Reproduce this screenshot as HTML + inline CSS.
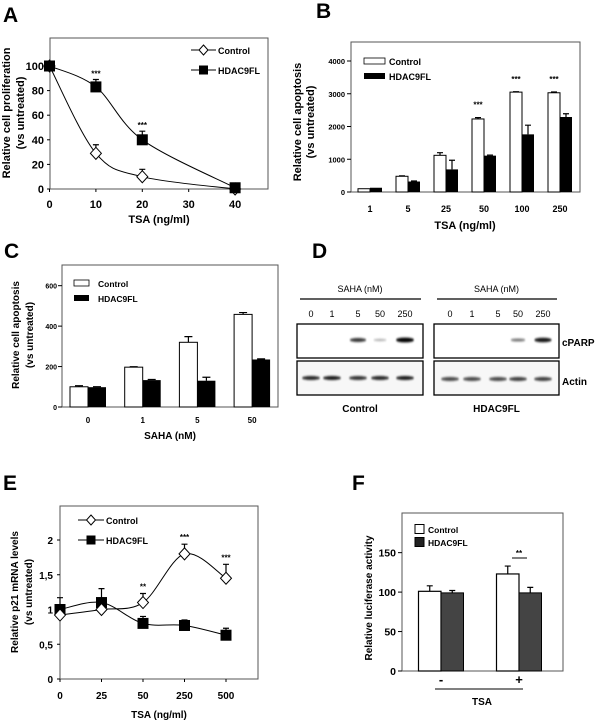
<!DOCTYPE html>
<html><head><meta charset="utf-8"><style>
html,body{margin:0;padding:0;background:#fff}
svg{display:block;font-family:"Liberation Sans",Arial,sans-serif}
text{font-weight:bold}
</style></head><body>
<svg id="fig" width="600" height="726" viewBox="0 0 600 726" xmlns="http://www.w3.org/2000/svg">
<defs><filter id="blur" x="-20%" y="-100%" width="140%" height="300%"><feGaussianBlur stdDeviation="0.9 1"/></filter></defs>
</svg>
<script>
// ---- Panel A data
const aDose = [0, 10, 20, 40];
const aControl = [100, 29, 10, 0];
const aControlErr = [0, 7, 6, 0];
const aHdac = [100, 83, 40, 1];
const aHdacErr = [0, 6, 7, 0];
const aYTicks = [0, 20, 40, 60, 80, 100];
const aXTicks = [0, 10, 20, 30, 40];
const aStars = ["", "***", "***", ""];
// ---- Panel B data
const bCats = ["1", "5", "25", "50", "100", "250"];
const bControl = [100, 480, 1120, 2230, 3050, 3030];
const bControlErr = [0, 15, 80, 40, 10, 25];
const bHdac = [130, 320, 690, 1110, 1760, 2290];
const bHdacErr = [0, 15, 280, 15, 280, 100];
const bYTicks = [0, 1000, 2000, 3000, 4000];
const bStars = ["", "", "", "***", "***", "***"];
// ---- Panel C data
const cCats = ["0", "1", "5", "50"];
const cControl = [100, 197, 320, 458];
const cControlErr = [5, 2, 28, 9];
const cHdac = [98, 133, 130, 235];
const cHdacErr = [2, 3, 17, 3];
const cYTicks = [0, 200, 400, 600];
// ---- Panel D data
const dLanes = ["0", "1", "5", "50", "250"];
const dParpControl = [0, 0, 0.75, 0.2, 1];
const dParpHdac = [0, 0, 0, 0.45, 0.9];
const dActinControl = [0.85, 0.9, 0.8, 0.85, 0.9];
const dActinHdac = [0.7, 0.7, 0.7, 0.75, 0.75];
// ---- Panel E data
const eCats = ["0", "25", "50", "250", "500"];
const eControl = [0.92, 1.0, 1.1, 1.8, 1.45];
const eControlErr = [0, 0, 0.13, 0.14, 0.2];
const eHdac = [1.0, 1.1, 0.8, 0.77, 0.63];
const eHdacErr = [0.17, 0.2, 0.1, 0.08, 0.1];
const eYTicks = [0, 0.5, 1, 1.5, 2];
const eYLabels = ["0", "0,5", "1", "1,5", "2"];
const eStars = ["", "", "**", "***", "***"];
// ---- Panel F data
const fCats = ["-", "+"];
const fControl = [101, 123];
const fControlErr = [7, 10];
const fHdac = [99, 99];
const fHdacErr = [3, 7];
const fYTicks = [0, 50, 100, 150];

const NS = "http://www.w3.org/2000/svg";
const svg = document.getElementById("fig");
function mk(tag, attrs, parent) {
  const el = document.createElementNS(NS, tag);
  for (const k in attrs) el.setAttribute(k, attrs[k]);
  (parent || svg).appendChild(el);
  return el;
}
function txt(s, x, y, size, anchor, parent) {
  const t = mk("text", {x: x, y: y, "font-size": size, "text-anchor": anchor || "middle"}, parent);
  t.textContent = s;
  return t;
}
function group(name) {
  const g = mk("g", {});
  
  
  return g;
}
function spline(pts) {
  let d = "M" + pts[0][0] + "," + pts[0][1];
  for (let i = 0; i < pts.length - 1; i++) {
    const p0 = pts[i - 1] || pts[i], p1 = pts[i], p2 = pts[i + 1], p3 = pts[i + 2] || p2;
    const c1x = p1[0] + (p2[0] - p0[0]) / 6, c1y = p1[1] + (p2[1] - p0[1]) / 6;
    const c2x = p2[0] - (p3[0] - p1[0]) / 6, c2y = p2[1] - (p3[1] - p1[1]) / 6;
    d += " C" + c1x + "," + c1y + " " + c2x + "," + c2y + " " + p2[0] + "," + p2[1];
  }
  return d;
}
function errBar(g, x, yTop, yBase, cap) {
  const l = mk("path", {d: "M" + x + "," + yBase + "V" + yTop + "M" + (x - cap) + "," + yTop + "H" + (x + cap), stroke: "#000", "stroke-width": 1.2, fill: "none"}, g);
  
  
}
function panelLabel(s, x, y) {
  const t = txt(s, x, y, 21, "start");
  
  
}
function yLabel(lines, xs, cy, size, g) {
  lines.forEach((s, i) => {
    const t = txt(s, 0, 0, size, "middle", g);
    t.setAttribute("transform", "translate(" + xs[i] + "," + cy + ") rotate(-90)");
    
    
  });
}
function frame(g, x1, y1, x2, y2) {
  const r = mk("rect", {x: x1, y: y1, width: x2 - x1, height: y2 - y1, fill: "none", stroke: "#555", "stroke-width": 1}, g);
  
  
}

// ================= Panel A =================
panelLabel("A", 3, 22);
(function () {
  const g = group("panel-a-proliferation-chart");
  const xA = v => 49.5 + v * 4.64, yA = v => 189 - v * 1.23;
  frame(g, 50, 38, 268, 189);
  aYTicks.forEach(v => {
    mk("line", {x1: 47, x2: 50, y1: yA(v), y2: yA(v), stroke: "#000"}, g);
    const t = txt(String(v), 44, yA(v) + 4, 11, "end", g);
    
    
  });
  aXTicks.forEach(v => {
    mk("line", {x1: xA(v), x2: xA(v), y1: 189, y2: 192, stroke: "#000"}, g);
    const t = txt(String(v), xA(v), 208, 11, "middle", g);
    
    
  });
  const xt = txt("TSA (ng/ml)", 159, 223, 11, "middle", g);
  
  
  yLabel(["Relative cell proliferation", "(vs untreated)"], [10, 24], 113, 11, g);
  const pc = mk("path", {d: spline(aDose.map((d, i) => [xA(d), yA(aControl[i])])), fill: "none", stroke: "#000", "stroke-width": 1}, g);
  
  
  const ph = mk("path", {d: spline(aDose.map((d, i) => [xA(d), yA(aHdac[i])])), fill: "none", stroke: "#000", "stroke-width": 1}, g);
  
  
  aDose.forEach((d, i) => {
    if (aControlErr[i]) errBar(g, xA(d), yA(aControl[i] + aControlErr[i]), yA(aControl[i]), 3);
    if (aHdacErr[i]) errBar(g, xA(d), yA(aHdac[i] + aHdacErr[i]), yA(aHdac[i]), 3);
    const x = xA(d), y = yA(aControl[i]);
    const dm = mk("path", {d: "M" + x + "," + (y - 6) + "L" + (x + 5.5) + "," + y + "L" + x + "," + (y + 6) + "L" + (x - 5.5) + "," + y + "Z", fill: "#fff", stroke: "#000", "stroke-width": 1}, g);
    
    
    const sq = mk("rect", {x: x - 5.5, y: yA(aHdac[i]) - 5.5, width: 11, height: 11, fill: "#000"}, g);
    
    
    if (aStars[i]) {
      const s = txt(aStars[i], x, yA(aHdac[i] + aHdacErr[i]) - 3, 8, "middle", g);
      
      
    }
  });
  // legend
  const lg = mk("g", {}, g);
  
  
  mk("line", {x1: 191, x2: 216, y1: 50, y2: 50, stroke: "#000"}, lg);
  mk("path", {d: "M203.5,45L208,50L203.5,55L199,50Z", fill: "#fff", stroke: "#000"}, lg);
  txt("Control", 218, 54, 9, "start", lg);
  mk("line", {x1: 191, x2: 216, y1: 70, y2: 70, stroke: "#000"}, lg);
  mk("rect", {x: 199, y: 65.5, width: 9, height: 9, fill: "#000"}, lg);
  txt("HDAC9FL", 218, 74, 9, "start", lg);
})();

// ================= Panel B =================
panelLabel("B", 316, 18);
(function () {
  const g = group("panel-b-apoptosis-tsa-chart");
  const cx = i => 370 + i * 38, yB = v => 192 - v * 0.03275, bw = 12;
  frame(g, 351, 42, 580, 192);
  bYTicks.forEach(v => {
    mk("line", {x1: 347, x2: 351, y1: yB(v), y2: yB(v), stroke: "#000"}, g);
    const t = txt(String(v), 345, yB(v) + 3, 7.5, "end", g);
    
    
  });
  bCats.forEach((c, i) => {
    const t = txt(c, cx(i), 212, 9, "middle", g);
    
    
    const r1 = mk("rect", {x: cx(i) - bw, y: yB(bControl[i]), width: bw, height: yB(0) - yB(bControl[i]), fill: "#fff", stroke: "#000", "stroke-width": 1}, g);
    
    
    const r2 = mk("rect", {x: cx(i), y: yB(bHdac[i]), width: bw, height: yB(0) - yB(bHdac[i]), fill: "#000"}, g);
    
    
    if (bControlErr[i]) errBar(g, cx(i) - bw / 2, yB(bControl[i] + bControlErr[i]), yB(bControl[i]), 3);
    if (bHdacErr[i]) errBar(g, cx(i) + bw / 2, yB(bHdac[i] + bHdacErr[i]), yB(bHdac[i]), 3);
    if (bStars[i]) {
      const s = txt(bStars[i], cx(i) - bw / 2, yB(bControl[i] + bControlErr[i]) - 10, 8, "middle", g);
      
      
    }
  });
  const xt = txt("TSA (ng/ml)", 465, 229, 11, "middle", g);
  
  
  yLabel(["Relative cell apoptosis", "(vs untreated)"], [301, 314], 122, 11, g);
  const lg = mk("g", {}, g);
  
  
  mk("rect", {x: 364, y: 58, width: 21, height: 6, fill: "#fff", stroke: "#000", "stroke-width": 0.8}, lg);
  txt("Control", 389, 65, 9, "start", lg);
  mk("rect", {x: 364, y: 73, width: 21, height: 6, fill: "#000"}, lg);
  txt("HDAC9FL", 389, 80, 9, "start", lg);
})();

// ================= Panel C =================
panelLabel("C", 4, 258);
(function () {
  const g = group("panel-c-apoptosis-saha-chart");
  const cx = i => 88 + i * 54.7, yC = v => 407 - v * 0.2022, bw = 18;
  frame(g, 62, 265, 278, 407);
  cYTicks.forEach(v => {
    mk("line", {x1: 58, x2: 62, y1: yC(v), y2: yC(v), stroke: "#000"}, g);
    const t = txt(String(v), 57, yC(v) + 3, 7, "end", g);
    
    
  });
  cCats.forEach((c, i) => {
    const t = txt(c, cx(i), 423, 8, "middle", g);
    
    
    const r1 = mk("rect", {x: cx(i) - bw, y: yC(cControl[i]), width: bw, height: yC(0) - yC(cControl[i]), fill: "#fff", stroke: "#000", "stroke-width": 1}, g);
    
    
    const r2 = mk("rect", {x: cx(i), y: yC(cHdac[i]), width: bw, height: yC(0) - yC(cHdac[i]), fill: "#000"}, g);
    
    
    errBar(g, cx(i) - bw / 2, yC(cControl[i] + cControlErr[i]), yC(cControl[i]), 4);
    errBar(g, cx(i) + bw / 2, yC(cHdac[i] + cHdacErr[i]), yC(cHdac[i]), 4);
  });
  const xt = txt("SAHA (nM)", 170, 439, 10, "middle", g);
  
  
  yLabel(["Relative cell apoptosis", "(vs untreated)"], [19, 33], 335, 10, g);
  const lg = mk("g", {}, g);
  
  
  mk("rect", {x: 74, y: 280, width: 15, height: 6, fill: "#fff", stroke: "#000", "stroke-width": 0.8}, lg);
  txt("Control", 98, 287, 8.5, "start", lg);
  mk("rect", {x: 74, y: 295, width: 15, height: 6, fill: "#000"}, lg);
  txt("HDAC9FL", 98, 302, 8.5, "start", lg);
})();

// ================= Panel D =================
panelLabel("D", 312, 258);
(function () {
  const g = group("panel-d-western-blot");
  const sets = [
    {x0: 297, x1: 423, lanes: [311, 332, 358, 380, 405], parp: dParpControl, actin: dActinControl, name: "Control", ay: 378},
    {x0: 434, x1: 559, lanes: [450, 472, 498, 518, 543], parp: dParpHdac, actin: dActinHdac, name: "HDAC9FL", ay: 379}
  ];
  sets.forEach(s => {
    const mid = (s.x0 + s.x1) / 2;
    const h = txt("SAHA (nM)", mid, 292, 9, "middle", g);
    h.setAttribute("font-weight", "normal");
    h.style.fontWeight = "normal";
    
    
    mk("line", {x1: s.x0 + 3, x2: s.x1 - 2, y1: 299, y2: 299, stroke: "#000", "stroke-width": 1.3}, g);
    dLanes.forEach((l, i) => {
      const t = txt(l, s.lanes[i], 317, 9, "middle", g);
      t.style.fontWeight = "normal";
      
      
    });
    const b1 = mk("rect", {x: s.x0, y: 324, width: s.x1 - s.x0, height: 34, fill: "#fff", stroke: "#000", "stroke-width": 1.3}, g);
    
    
    const b2 = mk("rect", {x: s.x0, y: 361, width: s.x1 - s.x0, height: 34, fill: "#f7f7f7", stroke: "#000", "stroke-width": 1.3}, g);
    
    
    dLanes.forEach((l, i) => {
      if (s.parp[i] > 0) {
        const e = mk("ellipse", {cx: s.lanes[i], cy: 340, rx: 6 + s.parp[i] * 3, ry: 0.8 + s.parp[i] * 1.6, fill: "#000", opacity: 0.15 + s.parp[i] * 0.85, filter: "url(#blur)"}, g);
        
        
      }
      const a = mk("ellipse", {cx: s.lanes[i], cy: s.ay, rx: 9, ry: 2, fill: "#000", opacity: s.actin[i], filter: "url(#blur)"}, g);
      
      
    });
    const f = txt(s.name, mid, 412, 10, "middle", g);
    
    
  });
  const p = txt("cPARP", 562, 346, 10, "start", g);
  
  
  const a = txt("Actin", 562, 385, 10, "start", g);
  
  
})();

// ================= Panel E =================
panelLabel("E", 3, 490);
(function () {
  const g = group("panel-e-p21-mrna-chart");
  const xE = i => 60 + i * 41.5, yE = v => 679 - v * 69.5;
  frame(g, 60, 506, 258, 679);
  eYTicks.forEach((v, i) => {
    mk("line", {x1: 57, x2: 60, y1: yE(v), y2: yE(v), stroke: "#000"}, g);
    const t = txt(eYLabels[i], 53, yE(v) + 4, 10, "end", g);
    
    
  });
  eCats.forEach((c, i) => {
    mk("line", {x1: xE(i), x2: xE(i), y1: 679, y2: 682, stroke: "#000"}, g);
    const t = txt(c, xE(i), 699, 10, "middle", g);
    
    
  });
  const xt = txt("TSA (ng/ml)", 159, 718, 10, "middle", g);
  
  
  yLabel(["Relative p21 mRNA levels", "(vs untreated)"], [18, 32], 592, 10, g);
  const pc = mk("path", {d: spline(eCats.map((c, i) => [xE(i), yE(eControl[i])])), fill: "none", stroke: "#000", "stroke-width": 1}, g);
  
  
  const ph = mk("path", {d: spline(eCats.map((c, i) => [xE(i), yE(eHdac[i])])), fill: "none", stroke: "#000", "stroke-width": 1}, g);
  
  
  eCats.forEach((c, i) => {
    const x = xE(i);
    if (eHdacErr[i]) errBar(g, x, yE(eHdac[i] + eHdacErr[i]), yE(eHdac[i]), 3);
    if (eControlErr[i]) errBar(g, x, yE(eControl[i] + eControlErr[i]), yE(eControl[i]), 3);
    const sq = mk("rect", {x: x - 5.5, y: yE(eHdac[i]) - 5.5, width: 11, height: 11, fill: "#000"}, g);
    
    
    const y = yE(eControl[i]);
    const dm = mk("path", {d: "M" + x + "," + (y - 6) + "L" + (x + 5.5) + "," + y + "L" + x + "," + (y + 6) + "L" + (x - 5.5) + "," + y + "Z", fill: "#fff", stroke: "#000", "stroke-width": 1}, g);
    
    
    if (eStars[i]) {
      const s = txt(eStars[i], x, yE(eControl[i] + eControlErr[i]) - 4, 8, "middle", g);
      
      
    }
  });
  const lg = mk("g", {}, g);
  
  
  mk("line", {x1: 78, x2: 104, y1: 520, y2: 520, stroke: "#000"}, lg);
  mk("path", {d: "M91,515L95.5,520L91,525L86.5,520Z", fill: "#fff", stroke: "#000"}, lg);
  txt("Control", 106, 524, 9, "start", lg);
  mk("line", {x1: 78, x2: 104, y1: 540, y2: 540, stroke: "#000"}, lg);
  mk("rect", {x: 86.5, y: 535.5, width: 9, height: 9, fill: "#000"}, lg);
  txt("HDAC9FL", 106, 544, 9, "start", lg);
})();

// ================= Panel F =================
panelLabel("F", 352, 490);
(function () {
  const g = group("panel-f-luciferase-chart");
  const cx = [441, 519], yF = v => 671 - v * 0.789, bw = 22.5;
  frame(g, 402, 513, 563, 671);
  fYTicks.forEach(v => {
    mk("line", {x1: 398, x2: 402, y1: yF(v), y2: yF(v), stroke: "#000"}, g);
    const t = txt(String(v), 396, yF(v) + 4, 10.5, "end", g);
    
    
  });
  fCats.forEach((c, i) => {
    const r1 = mk("rect", {x: cx[i] - bw, y: yF(fControl[i]), width: bw, height: yF(0) - yF(fControl[i]), fill: "#fff", stroke: "#000", "stroke-width": 1.2}, g);
    
    
    const r2 = mk("rect", {x: cx[i], y: yF(fHdac[i]), width: bw, height: yF(0) - yF(fHdac[i]), fill: "#444", stroke: "#000", "stroke-width": 1}, g);
    
    
    errBar(g, cx[i] - bw / 2, yF(fControl[i] + fControlErr[i]), yF(fControl[i]), 3);
    errBar(g, cx[i] + bw / 2, yF(fHdac[i] + fHdacErr[i]), yF(fHdac[i]), 3);
    const t = txt(c, cx[i], 684, 13, "middle", g);
    
    
  });
  mk("line", {x1: 435, x2: 523, y1: 689, y2: 689, stroke: "#000"}, g);
  const tt = txt("TSA", 482, 705, 10, "middle", g);
  
  
  mk("line", {x1: 512, x2: 527, y1: 558, y2: 558, stroke: "#000"}, g);
  const st = txt("**", 519, 556, 8, "middle", g);
  
  
  yLabel(["Relative luciferase activity"], [372], 598, 10, g);
  const lg = mk("g", {}, g);
  
  
  mk("rect", {x: 415, y: 524.5, width: 9, height: 9, fill: "#fff", stroke: "#000"}, lg);
  txt("Control", 428, 533, 8.5, "start", lg);
  mk("rect", {x: 415, y: 537.5, width: 9, height: 9, fill: "#222", stroke: "#000"}, lg);
  txt("HDAC9FL", 428, 546, 8.5, "start", lg);
})();
</script>
</body></html>
